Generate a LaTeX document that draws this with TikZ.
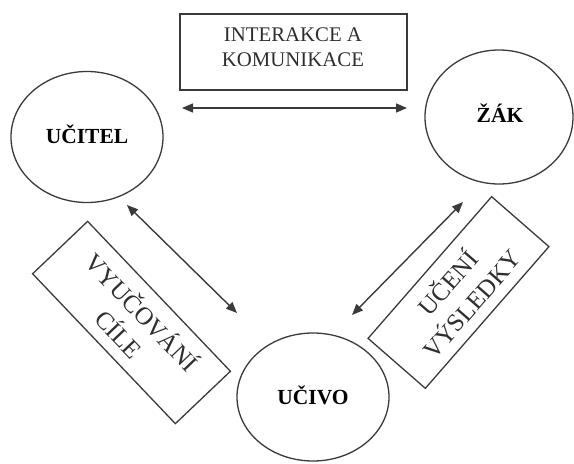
\documentclass[tikz,border=0pt]{standalone}
\usepackage{fontspec}
\setmainfont{Liberation Serif}
\usetikzlibrary{shapes.geometric,arrows.meta}
\definecolor{ln}{HTML}{3A3A3A}
\definecolor{tx}{HTML}{2E2E2E}
\tikzset{
  ell/.style={ellipse,draw=ln,line width=1.3pt,inner sep=0pt},
  elabel/.style={inner sep=0pt,text=black,font=\fontsize{21.5}{24}\selectfont\bfseries},
  lbox/.style={rectangle,draw=ln,line width=1.3pt,inner sep=0pt,align=center,text=tx},
  conn/.style={draw=ln,line width=1.4pt,{Triangle[length=11pt,width=9pt]}-{Triangle[length=11pt,width=9pt]}}
}
\begin{document}
\begin{tikzpicture}[x=1pt,y=-1pt]
\useasboundingbox (0,0) rectangle (574,464);
% ellipses
\node[ell,minimum width=152pt,minimum height=131pt] (ucitel) at (87,137) {};
\node[elabel] (tucitel) at (87,134) {UČITEL};
\node[ell,minimum width=148pt,minimum height=134pt] (zak) at (499,117) {};
\node[elabel] (tzak) at (500,113) {ŽÁK};
\node[ell,minimum width=152pt,minimum height=128pt] (ucivo) at (313,397) {};
\node[elabel] (tucivo) at (313,395) {UČIVO};
% boxes
\node[lbox,minimum width=227pt,minimum height=76pt] (b1) at (293.5,52) {};
\node[align=center,text=tx,font=\fontsize{20.8}{25}\selectfont,inner sep=0pt] (t1) at (293,47) {INTERAKCE A\\KOMUNIKACE};
\node[lbox,minimum width=207pt,minimum height=76pt,rotate=-46.4,font=\fontsize{25}{32}\selectfont] (b2) at (131.5,322.5) {VYUČOVÁNÍ\\CÍLE};
\node[lbox,minimum width=188pt,minimum height=76pt,rotate=48.9,font=\fontsize{25}{32}\selectfont] (b3) at (458.5,292.5) {UČENÍ\\VÝSLEDKY};
% arrows
\coordinate (a1s) at (182,108);
\coordinate (a1e) at (407,108);
\coordinate (a2s) at (127,205);
\coordinate (a2e) at (237,313);
\coordinate (a3s) at (352,315);
\coordinate (a3e) at (463,202);
\draw[conn] (a1s) -- (a1e);
\draw[conn] (a2s) -- (a2e);
\draw[conn] (a3s) -- (a3e);
\end{tikzpicture}
\end{document}
